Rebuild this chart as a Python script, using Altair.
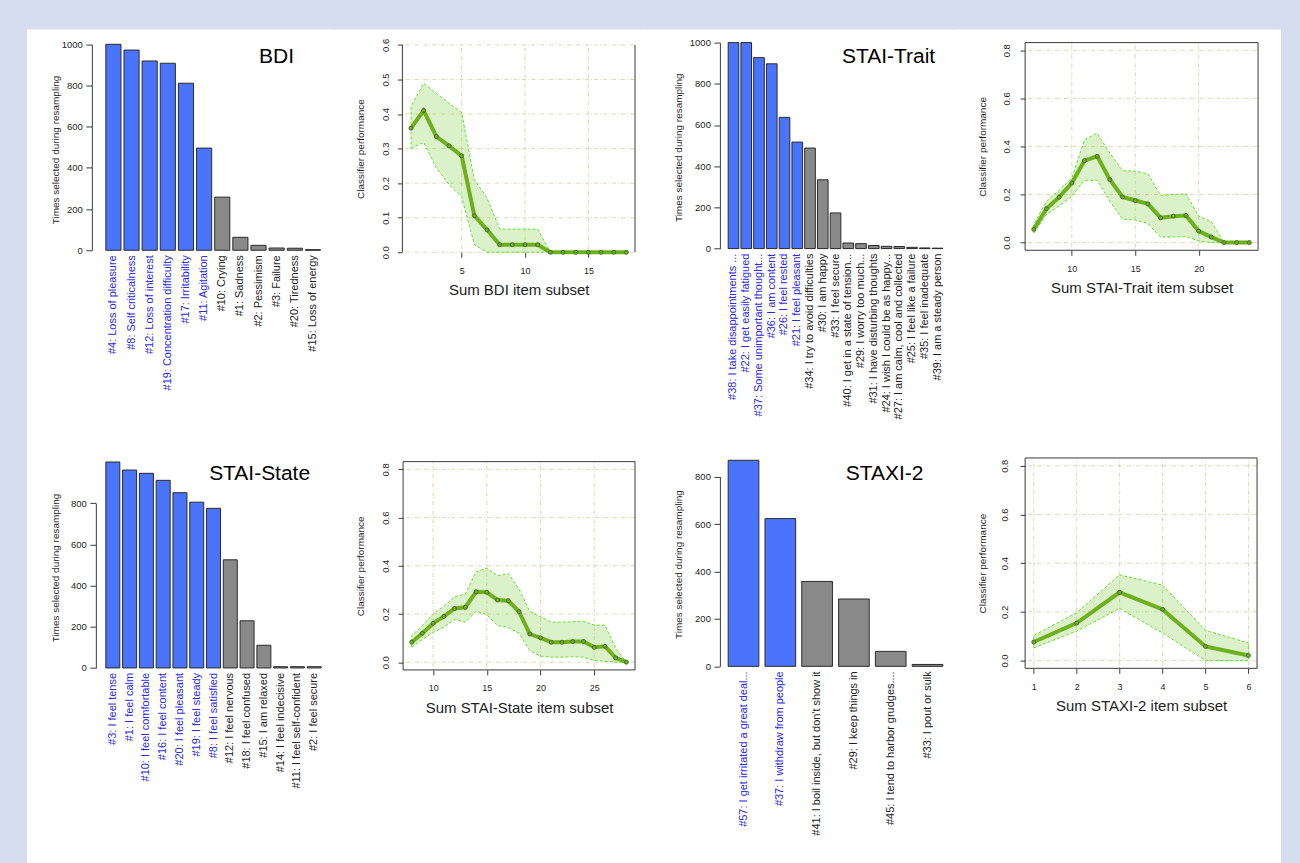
import json
import altair as alt
import pandas as pd

FONT = "Liberation Sans"
BG = "#d5ddee"
BAR_SEL = "#4a74fb"
BAR_OTHER = "#898989"
LABEL_SEL = "#2b2be0"
TXT = "#1e1e1e"
AXC = "#3a3a3a"
LINE = "#6db01c"
BAND_FILL = "#8fd35a"
BAND_EDGE = "#66e030"
GRID = "#ded8b4"

# ---------------- data: bar panels ----------------
bdi_items = ["#4: Loss of pleasure", "#8: Self criticalness", "#12: Loss of interest",
             "#19: Concentration difficulty", "#17: Irritability", "#11: Agitation",
             "#10: Crying", "#1: Sadness", "#2: Pessimism", "#3: Failure",
             "#20: Tiredness", "#15: Loss of energy"]
bdi_counts = [1000, 972, 919, 908, 811, 496, 258, 63, 24, 11, 10, 3]
bdi_n_selected = 6

trait_items = ["#38: I take disappointments ...", "#22: I get easily fatigued",
               "#37: Some unimportant thought...", "#36: I am content", "#26: I feel rested",
               "#21: I feel pleasant", "#34: I try to avoid difficulties", "#30: I am happy",
               "#33: I feel secure", "#40: I get in a state of tension...",
               "#29: I worry too much...", "#31: I have disturbing thoughts",
               "#24: I wish I could be as happy...", "#27: I am calm, cool and collected",
               "#25: I feel like a failure", "#35: I feel inadequate", "#39: I am a steady person"]
trait_counts = [1000, 1000, 927, 897, 637, 517, 488, 334, 173, 27, 24, 15, 11, 10, 6, 3, 2]
trait_n_selected = 6

state_items = ["#3: I feel tense", "#1: I feel calm", "#10: I feel comfortable",
               "#16: I feel content", "#20: I feel pleasant", "#19: I feel steady",
               "#8: I feel satisfied", "#12: I feel nervous", "#18: I feel confused",
               "#15: I am relaxed", "#14: I feel indecisive", "#11: I feel self-confident",
               "#2: I feel secure"]
state_counts = [1000, 961, 945, 911, 851, 805, 775, 525, 229, 110, 6, 6, 6]
state_n_selected = 7

staxi_items = ["#57: I get irritated a great deal...", "#37: I withdraw from people",
               "#41: I boil inside, but don't show it", "#29: I keep things in",
               "#45: I tend to harbor grudges....", "#33: I pout or sulk"]
staxi_counts = [869, 623, 358, 284, 63, 8]
staxi_n_selected = 2

bar_y_ticks_1000 = [0, 200, 400, 600, 800, 1000]
bar_y_ticks_800 = [0, 200, 400, 600, 800]

# ---------------- data: classifier performance panels ----------------
bdi_subset = list(range(1, 19))
bdi_perf = [0.359, 0.410, 0.335, 0.308, 0.279, 0.106, 0.065, 0.022, 0.022, 0.022, 0.022,
            0, 0, 0, 0, 0, 0, 0]
bdi_upper = [0.422, 0.489, 0.460, 0.431, 0.404, 0.210, 0.157, 0.067, 0.067, 0.067, 0.067,
             0, 0, 0, 0, 0, 0, 0]
bdi_lower = [0.300, 0.318, 0.244, 0.196, 0.160, 0.022, 0, 0, 0, 0, 0,
             0, 0, 0, 0, 0, 0, 0]

trait_subset = list(range(7, 25))
trait_perf = [0.055, 0.141, 0.189, 0.248, 0.341, 0.359, 0.262, 0.190, 0.175, 0.161,
              0.103, 0.110, 0.113, 0.048, 0.023, 0, 0, 0]
trait_upper = [0.076, 0.172, 0.217, 0.269, 0.428, 0.455, 0.372, 0.299, 0.297, 0.286,
               0.196, 0.200, 0.203, 0.110, 0.087, 0, 0, 0]
trait_lower = [0.039, 0.117, 0.152, 0.193, 0.259, 0.259, 0.172, 0.097, 0.094, 0.079,
               0.023, 0.023, 0.025, 0.007, 0, 0, 0, 0]

state_subset = list(range(8, 29))
state_perf = [0.083, 0.120, 0.161, 0.190, 0.223, 0.228, 0.292, 0.290, 0.258, 0.255, 0.210,
              0.117, 0.101, 0.083, 0.083, 0.086, 0.086, 0.062, 0.066, 0.018, 0]
state_upper = [0.110, 0.152, 0.200, 0.232, 0.272, 0.283, 0.375, 0.390, 0.359, 0.368, 0.303,
               0.211, 0.189, 0.166, 0.166, 0.168, 0.170, 0.154, 0.154, 0.058, 0]
state_lower = [0.062, 0.094, 0.124, 0.145, 0.177, 0.166, 0.211, 0.197, 0.152, 0.145, 0.120,
               0.048, 0.025, 0.021, 0.021, 0.023, 0.021, 0.007, 0.004, 0, 0]

staxi_subset = [1, 2, 3, 4, 5, 6]
staxi_perf = [0.076, 0.154, 0.280, 0.210, 0.058, 0.021]
staxi_upper = [0.103, 0.196, 0.352, 0.310, 0.124, 0.072]
staxi_lower = [0.052, 0.121, 0.214, 0.113, 0, 0]

perf_ticks_06 = [0.0, 0.1, 0.2, 0.3, 0.4, 0.5, 0.6]
perf_ticks_08 = [0.0, 0.2, 0.4, 0.6, 0.8]


def bar_cell(items, counts, nsel, title, W, H, xr, y0, ytop_px, yticks,
             axis_x, ytitle_dx, ytitle_y, title_xy):
    df = pd.DataFrame({
        "item": items,
        "count": counts,
        "group": ["sel" if i < nsel else "other" for i in range(len(items))],
    })
    test = "indexof(" + json.dumps(items[:nsel]) + ", datum.value) >= 0"
    x = alt.X("item:N", sort=items, title=None,
              scale=alt.Scale(range=list(xr), paddingInner=1 / 6, paddingOuter=0),
              axis=alt.Axis(orient="bottom", offset=y0 - H, domain=False, ticks=False,
                            labelAngle=270, labelAlign="right", labelBaseline="middle",
                            labelPadding=4.5, labelFontSize=11, labelLimit=400,
                            labelOverlap=False, labelFont=FONT,
                            labelColor={"condition": {"test": test, "value": LABEL_SEL},
                                        "value": TXT}))
    y = alt.Y("count:Q", title="Times selected during resampling",
              scale=alt.Scale(domain=[0, yticks[-1]], range=[y0, ytop_px], nice=False),
              axis=alt.Axis(orient="left", offset=-axis_x, values=yticks, grid=False,
                            format="d",
                            domain=True, domainColor=AXC, tickColor=AXC, tickSize=6,
                            labelPadding=3.5, labelFontSize=9.5, labelColor=TXT,
                            labelOverlap=False, labelFont=FONT,
                            titleFontSize=10, titleFontWeight="normal", titleColor=TXT,
                            titleFont=FONT, titleX=ytitle_dx, titleY=ytitle_y,
                            titleAngle=270, titleAlign="center", titleBaseline="middle"))
    bars = alt.Chart(df).mark_bar(stroke="#2a2a2a", strokeWidth=1).encode(
        x=x, y=y,
        color=alt.Color("group:N", legend=None,
                        scale=alt.Scale(domain=["sel", "other"], range=[BAR_SEL, BAR_OTHER])))
    ttl = alt.Chart(pd.DataFrame({"t": [title]})).mark_text(
        font=FONT, fontSize=21, color="black", align="center", baseline="middle"
    ).encode(text="t:N", x=alt.value(title_xy[0]), y=alt.value(title_xy[1]))
    return alt.layer(bars, ttl).properties(width=W, height=H)


def line_cell(xs, perf, lo, hi, xlabel, W, H, xdom, xr, ydom, yr, xticks, yticks,
              ylab_dist, ytitle_cx, full_box):
    df = pd.DataFrame({"x": xs, "perf": perf, "lo": lo, "hi": hi})
    xs_ = alt.Scale(domain=list(xdom), range=list(xr), nice=False, zero=False)
    ys_ = alt.Scale(domain=list(ydom), range=list(yr), nice=False, zero=False)
    xaxis = alt.Axis(orient="bottom", offset=yr[0] - H, values=xticks, domain=False,
                     grid=False, tickSize=5, tickColor=AXC, labelPadding=13,
                     labelBaseline="middle", labelAlign="center", labelFontSize=9,
                     labelColor=TXT, labelFlush=False, labelOverlap=False, labelFont=FONT,
                     titleFontSize=15, titleFontWeight="normal", titleColor=TXT,
                     titleFont=FONT, titleX=(xr[0] + xr[1]) / 2, titleY=37.5,
                     titleAlign="center", titleBaseline="middle")
    yaxis = alt.Axis(orient="left", offset=-xr[0], values=yticks, domain=False, grid=False,
                     tickSize=5, tickColor=AXC, labelAngle=270, labelAlign="center",
                     labelBaseline="middle", labelPadding=ylab_dist - 5, labelFontSize=9.5,
                     labelColor=TXT, format=".1f", labelFlush=False, labelOverlap=False,
                     labelFont=FONT, titleFontSize=10, titleFontWeight="normal",
                     titleColor=TXT, titleFont=FONT, titleX=ytitle_cx - xr[0],
                     titleY=(yr[0] + yr[1]) / 2, titleAngle=270, titleAlign="center",
                     titleBaseline="middle")
    ytitle = "Classifier performance"

    def X(f):
        return alt.X(f, scale=xs_, axis=xaxis, title=xlabel)

    def Y(f):
        return alt.Y(f, scale=ys_, axis=yaxis, title=ytitle)

    gx = pd.DataFrame({"v": xticks, "a": [ydom[0]] * len(xticks), "b": [ydom[1]] * len(xticks)})
    gy = pd.DataFrame({"v": yticks, "a": [xdom[0]] * len(yticks), "b": [xdom[1]] * len(yticks)})

    grid_x = alt.Chart(gx).mark_rule(color=GRID, strokeWidth=1, strokeDash=[1, 2, 4, 2]).encode(
        x=X("v:Q"), y=Y("a:Q"), y2="b:Q")
    grid_y = alt.Chart(gy).mark_rule(color=GRID, strokeWidth=1, strokeDash=[1, 2, 4, 2]).encode(
        y=Y("v:Q"), x=X("a:Q"), x2="b:Q")
    band = alt.Chart(df).mark_area(fill=BAND_FILL, fillOpacity=0.32, stroke=BAND_EDGE,
                                   strokeWidth=1, strokeDash=[3, 2]).encode(
        x=X("x:Q"), y=Y("lo:Q"), y2="hi:Q")
    if full_box:
        box_df = pd.DataFrame({"x0": [xdom[0]], "x1": [xdom[1]], "y0": [ydom[0]], "y1": [ydom[1]]})
        box = alt.Chart(box_df).mark_rect(fill="transparent", stroke=AXC, strokeWidth=1).encode(
            x=X("x0:Q"), x2="x1:Q", y=Y("y0:Q"), y2="y1:Q")
    else:
        box_df = pd.DataFrame({"xv": [xdom[0], xdom[1]], "y0": [ydom[0]] * 2, "y1": [ydom[1]] * 2})
        box = alt.Chart(box_df).mark_rule(color=AXC, strokeWidth=1).encode(
            x=X("xv:Q"), y=Y("y0:Q"), y2="y1:Q")
    line = alt.Chart(df).mark_line(color=LINE, strokeWidth=4).encode(
        x=X("x:Q"), y=Y("perf:Q"))
    pts = alt.Chart(df).mark_circle(size=16, color=LINE, stroke="#3f5a2a", strokeWidth=0.8,
                                    opacity=1).encode(
        x=X("x:Q"), y=Y("perf:Q"))
    return alt.layer(grid_x, grid_y, band, box, line, pts).properties(width=W, height=H)


# ---------------- panels ----------------
A = bar_cell(bdi_items, bdi_counts, bdi_n_selected, "BDI", 303, 411,
             (78, 293), 220, 13.7, bar_y_ticks_1000, 64, -36, 119, (249, 26))
B = line_cell(bdi_subset, bdi_perf, bdi_lower, bdi_upper, "Sum BDI item subset", 315, 411,
              (0.32, 18.68), (72, 305), (0, 0.6), (222, 14.3), [5, 10, 15], perf_ticks_06,
              17, 30, False)
C = bar_cell(trait_items, trait_counts, trait_n_selected, "STAI-Trait", 315, 411,
             (83.3, 298.3), 218.3, 12, bar_y_ticks_1000, 75, -41.7, 116.8, (244, 26))
D = line_cell(trait_subset, trait_perf, trait_lower, trait_upper, "Sum STAI-Trait item subset",
              321, 411, (6.32, 24.68), (65.7, 299), (-0.032, 0.832), (220, 12), [10, 15, 20],
              perf_ticks_08, 19, 23.3, True)
E = bar_cell(state_items, state_counts, state_n_selected, "STAI-State", 303, 423,
             (78, 293.7), 227.3, 62.3, bar_y_ticks_800, 68, -40, 126.7, (232, 33))
F = line_cell(state_subset, state_perf, state_lower, state_upper, "Sum STAI-State item subset",
              315, 423, (7.2, 28.8), (72.7, 305), (-0.032, 0.832), (229.3, 20.7),
              [10, 15, 20, 25], perf_ticks_08, 17.7, 30, True)
G = bar_cell(staxi_items, staxi_counts, staxi_n_selected, "STAXI-2", 315, 423,
             (83.3, 298.3), 225.7, 35.7, bar_y_ticks_800, 75, -41.7, 123.3, (240, 33))
H = line_cell(staxi_subset, staxi_perf, staxi_lower, staxi_upper, "Sum STAXI-2 item subset",
              321, 423, (0.8, 6.2), (65.7, 298), (-0.032, 0.832), (227.7, 17),
              [1, 2, 3, 4, 5, 6], perf_ticks_08, 21, 22.7, True)

chart = alt.concat(A, B, C, D, E, F, G, H, columns=4, spacing=0, bounds="flush").properties(
    padding={"left": 27, "top": 29, "right": 19, "bottom": 0}
).configure(background=BG, font=FONT).configure_view(fill="white", stroke="white", strokeWidth=2)

chart.save("out.html", embed_options={"renderer": "svg", "actions": False})
